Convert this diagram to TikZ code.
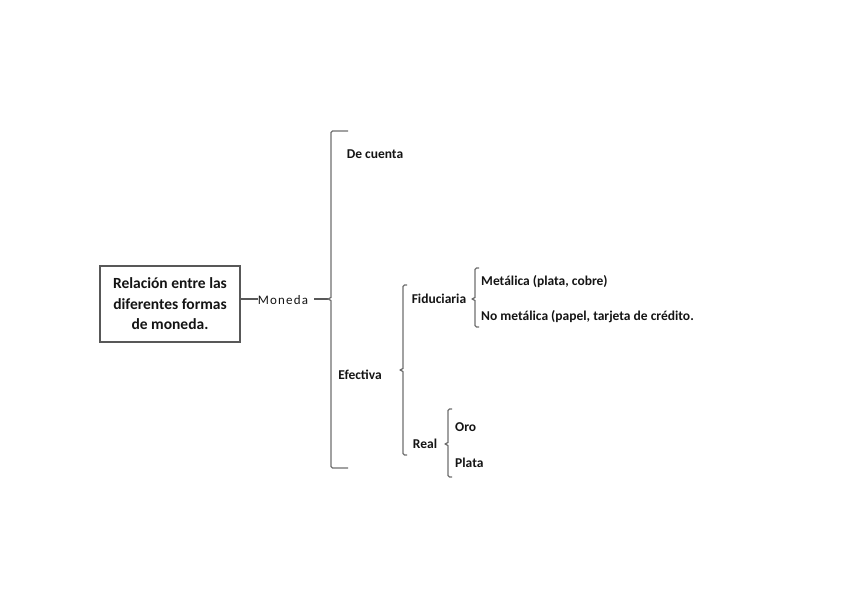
\documentclass[tikz,border=0pt]{standalone}
\usepackage{fontspec}
\setmainfont{Carlito}
\usepackage{tikz}
\usetikzlibrary{positioning,calc}
\definecolor{mmgray}{RGB}{110,110,110}
\definecolor{mmtext}{RGB}{20,20,20}

% left bracket with a small notch: x, top y, bottom y, notch y, arm length
\newcommand{\bracket}[5]{%
  \draw[brk] (#1+#5,#2) -- (#1+1.5,#2) to[out=180,in=90] (#1,#2+1.5)
    -- (#1,#4-1.5) -- (#1-3,#4) -- (#1,#4+1.5)
    -- (#1,#3-1.5) to[out=-90,in=180] (#1+1.5,#3) -- (#1+#5,#3);}

\begin{document}
\begin{tikzpicture}[x=1pt,y=-1pt,
    brk/.style={draw=mmgray, line width=1.3pt, line join=round},
    lnk/.style={draw=mmgray!80!black, line width=1.1pt},
    rootbox/.style={rectangle, draw=mmgray!80!black, line width=1.4pt,
      minimum width=140pt, minimum height=76pt, align=center, inner sep=0pt,
      font=\fontsize{15.5}{20.5}\selectfont\bfseries, text=mmtext},
    lbl/.style={font=\fontsize{13.5}{15}\selectfont\bfseries, text=mmtext, inner sep=0pt},
    leaf/.style={lbl, anchor=west}
  ]
  \useasboundingbox (0,0) rectangle (848,599);

  % Root box
  \node[rootbox] (root) at (170,304) {Relación entre las\\diferentes formas\\de moneda.};
  \node[font=\fontsize{13}{15}\selectfont, text=mmtext, inner sep=0pt] (mon) at (283,300) {M\kern1.2pt o\kern1.2pt n\kern1.2pt e\kern1.2pt d\kern1.2pt a};
  \draw[lnk] (root.east |- 0,299) -- (mon.west |- 0,299);
  \coordinate (montip) at (328,299);
  \draw[lnk] (mon.east |- 0,299) ++(6,0) -- (montip);

  % Moneda bracket
  \bracket{331}{131}{468}{299}{17}
  \node[lbl] (cuenta) at (375,154) {De cuenta};
  \node[lbl] (efec) at (360,375) {Efectiva};

  % Efectiva bracket
  \bracket{403}{285}{455}{370}{4}
  \node[lbl] (fidu) at (439,299) {Fiduciaria};
  \node[lbl] (real) at (425,444) {Real};

  % Fiduciaria bracket
  \bracket{475}{268}{327}{299}{4}
  \node[leaf] (metal) at (481,282) {Metálica (plata, cobre)};
  \node[leaf] (nometal) at (481,317) {No metálica (papel, tarjeta de crédito.};

  % Real bracket
  \bracket{448}{409}{477}{444}{4}
  \node[leaf] (oro) at (455,427) {Oro};
  \node[leaf] (plata) at (455,463) {Plata};
\end{tikzpicture}
\end{document}
